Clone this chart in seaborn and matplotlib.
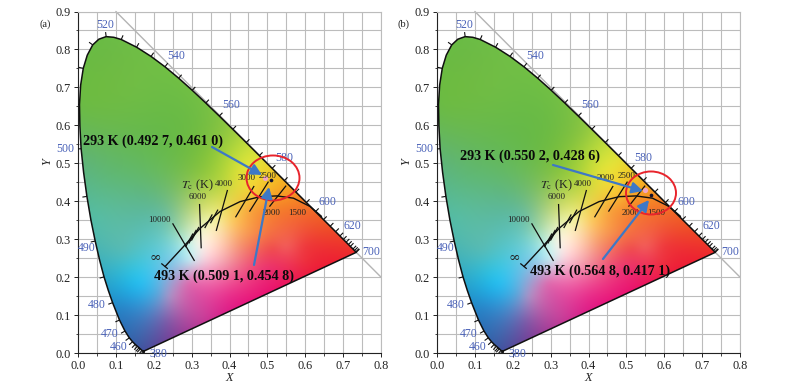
import numpy as np
import pandas as pd
import matplotlib
matplotlib.use("Agg")
import matplotlib.pyplot as plt
from matplotlib.colors import to_rgb
from matplotlib.patches import Ellipse, Polygon
from matplotlib.collections import LineCollection
import seaborn as sns

# CIE 1931 spectral locus (wavelength, chromaticity); half-steps
wavelengths = [380,400,420,430,440,445,450,455,460,465,470,475,480,482.5,485,487.5,490,492.5,495,497.5,500,502.5,505,507.5,510,512.5,515,517.5,520,522.5,525,530,535,540,545,550,555,560,565,570,575,580,585,590,595,600,605,610,615,620,625,630,635,640,650,660,680,700]
locus_x = [.1741,.1733,.1714,.1689,.1644,.1611,.1566,.1510,.1440,.1355,.1241,.1096,.0913,.0800,.0687,.0570,.0454,.0340,.0235,.0148,.0082,.0050,.0039,.0070,.0139,.0245,.0389,.0550,.0743,.0945,.1142,.1547,.1929,.2296,.2658,.3016,.3373,.3731,.4087,.4441,.4788,.5125,.5448,.5752,.6029,.6270,.6482,.6658,.6801,.6915,.7006,.7079,.7140,.7190,.7260,.7300,.7334,.7347]
locus_y = [.0050,.0048,.0051,.0069,.0109,.0138,.0177,.0227,.0297,.0399,.0578,.0868,.1327,.1650,.2007,.2450,.2950,.3510,.4127,.4760,.5384,.5985,.6548,.7060,.7502,.7850,.8120,.8270,.8338,.8320,.8262,.8059,.7816,.7543,.7243,.6923,.6589,.6245,.5896,.5547,.5202,.4866,.4544,.4242,.3965,.3725,.3514,.3340,.3197,.3083,.2993,.2920,.2859,.2809,.2740,.2700,.2666,.2653]

# Planckian locus
planck_x = [.230,.279,.323,.375,.428,.481,.525,.569,.613,.643]
planck_y = [.228,.281,.329,.373,.399,.412,.414,.408,.386,.360]
planck_tick_x = [.2936,.3024,.3094,.3446,.3596]

# isotherm segments
iso_names = ["10000","6000","4000","3000","2500","2000"]
iso_x0 = [.2497,.3209,.3947,.4650,.5029,.5495]
iso_y0 = [.3418,.3928,.4297,.4402,.4517,.4411]
iso_x1 = [.3077,.3253,.3648,.4158,.4527,.5055]
iso_y1 = [.2425,.2759,.3216,.3576,.3726,.3858]

# colour anchors of the filled diagram
anc_x = [.08,.02,.15,.30,.38,.47,.50,.55,.60,.65,.72,.02,.05,.60,.65,.55,.60,.50,
         .12,.12,.163,.12,.163,.234,.243,.208,.295,.304,.33,.40,.454,.383,.339,.295,.26,.322,.427,.47,.515,.383,.41,.357,.33,.27,.234,.383,.33,.43,.47,.463,.524,.207,.076]
anc_y = [.80,.65,.70,.60,.58,.50,.46,.42,.37,.32,.27,.50,.35,.28,.27,.28,.24,.22,
         .404,.272,.184,.114,.034,.078,.149,.157,.184,.157,.096,.149,.175,.237,.254,.245,.254,.298,.29,.316,.272,.316,.347,.35,.377,.333,.36,.448,.483,.474,.421,.377,.386,.483,.465]
anc_c = ["#6cbb45","#6cbb45","#70bd45","#6ebc44","#8cc640","#e4e138","#f2c72a","#f79a25","#f26b2b","#ef4a2b","#ee2f2c","#5fb577","#56bca5","#ef3b3e","#ee2e34","#f25a58","#ee2f3f","#ec3370",
         "#5eb98e","#55bcb8","#2abdee","#2a85c8","#4060a8","#7c5aa8","#a88fc5","#5aa8dc","#dd6fb0","#d75aa8","#c9409a","#e8308c","#ec2f7f","#f4a0b0","#f9d5dc","#c0e4ee","#8fd4e8","#f4f2e0","#f79a70","#f68a4a","#f04c50","#fbd6a0","#fbc860","#f0f0a0","#d5e07a","#a2d6a8","#72c0a0","#bcd640","#8cc63f","#e0e038","#f7c636","#f7a13a","#f6862a","#68ba5e","#5fb878"]

wave_labels = ["520","540","560","580","600","620","700","500","490","480","470","460","380"]
wave_px = [(105,25),(176,56),(231,105),(284,158),(327,202),(352,226),(371,252),(65,149),(87,248),(97,305),(110,334),(119,347),(158,354)]
iso_text = ["10000","6000","4000","3000","2500","2000","1500"]
iso_text_px = [(159,220),(198,197),(224,184),(247,178),(268,176),(272,213),(297,213)]

panels = [
    dict(off=0, tag="(a)", pts=[(.4927,.4610),(.5091,.4548)],
         t1="293 K (0.492 7, 0.461 0)", t1p=(153,141), t2="493 K (0.509 1, 0.454 8)", t2p=(224,276),
         a1=((212,147),(262,175)), a2=((254,265),(269,187)), ell=(273,178,53,45)),
    dict(off=359, tag="(b)", pts=[(.5502,.4286),(.5648,.4171)],
         t1="293 K (0.550 2, 0.428 6)", t1p=(171,156), t2="493 K (0.564 8, 0.417 1)", t2p=(241,271),
         a1=((194,165),(284,191)), a2=((244,259),(290,200)), ell=(292,193,50,43)),
]

sns.set_theme(style="white")
plt.rcParams["font.family"] = ["Liberation Serif", "DejaVu Serif"]
plt.rcParams["mathtext.fontset"] = "stix"

W, H = 795, 392
fig = plt.figure(figsize=(W/100, H/100), dpi=100)

# smooth colour surface through the anchors (thin-plate spline)
gx, gy = np.meshgrid(np.linspace(0, .8, 321), np.linspace(0, .9, 361))
A = np.c_[anc_x, anc_y]
rgb = np.array([to_rgb(c) for c in anc_c])
def tps(r2):
    return np.where(r2 > 0, .5*r2*np.log(np.maximum(r2, 1e-12)), 0.0)
K = tps(((A[:, None]-A[None])**2).sum(-1)) + 1e-4*np.eye(len(A))
P = np.c_[np.ones(len(A)), A]
M = np.block([[K, P], [P.T, np.zeros((3, 3))]])
sol = np.linalg.solve(M, np.r_[rgb, np.zeros((3, 3))])
G = np.c_[gx.ravel(), gy.ravel()]
Kg = tps(((G[:, None]-A[None])**2).sum(-1))
img = np.clip(np.c_[Kg, np.ones(len(G)), G] @ sol, 0, 1).reshape(*gx.shape, 3)

lx, ly = np.array(locus_x), np.array(locus_y)
closed = pd.DataFrame(dict(x=locus_x+locus_x[:1], y=locus_y+locus_y[:1]))
planck = pd.DataFrame(dict(x=planck_x, y=planck_y))

tx, ty = np.gradient(lx), np.gradient(ly)
nrm = np.hypot(tx, ty)
nx, ny = -ty/nrm, tx/nrm
s = np.where(nx*(lx-.33)+ny*(ly-.33) > 0, 1, -1)
nx, ny = nx*s, ny*s
is_tick = np.array([float(v) % 5 == 0 for v in wavelengths])

X = lambda px: (px-78)/378.75
Y = lambda py: (353-py)/379.4

for p in panels:
    o = p["off"]
    ax = fig.add_axes([(78+o)/W, 1-353/H, 303/W, 341.5/H])
    ax.set_xlim(0, .8); ax.set_ylim(0, .9)

    ax.set_xticks(np.arange(0, .81, .1)); ax.set_yticks(np.arange(0, .91, .1))
    ax.set_xticks(np.arange(.05, .8, .1), minor=True); ax.set_yticks(np.arange(.05, .9, .1), minor=True)
    ax.grid(True, which="both", color="#bcbcbc", lw=.8, zorder=0)
    ax.set_axisbelow(True)
    for sp in ("top", "right"):
        ax.spines[sp].set_color("#bcbcbc"); ax.spines[sp].set_linewidth(.8)
    for sp in ("left", "bottom"):
        ax.spines[sp].set_color("#222222"); ax.spines[sp].set_linewidth(.8)
    ax.tick_params(which="major", bottom=True, left=True, length=3.2, width=.7, color="#222222", labelsize=8.8, pad=2, labelcolor="#222222")
    ax.tick_params(which="minor", bottom=True, left=True, length=1.8, width=.6, color="#222222")
    ax.xaxis.set_major_formatter(lambda v, _: f"{v:.1f}")
    ax.yaxis.set_major_formatter(lambda v, _: f"{v:.1f}")

    ax.plot([.1, .8], [.9, .2], color="#b4b4b4", lw=1.0, zorder=1.5, clip_on=False)

    im = ax.imshow(img, origin="lower", extent=(0, .8, 0, .9), aspect="auto", zorder=2, interpolation="bilinear")
    im.set_clip_path(Polygon(np.c_[lx, ly], closed=True, transform=ax.transData))

    sns.lineplot(data=closed, x="x", y="y", sort=False, estimator=None, color="#101010", lw=1.1, ax=ax, zorder=4)
    sns.lineplot(data=planck, x="x", y="y", sort=False, estimator=None, color="#101010", lw=1.0, ax=ax, zorder=4)

    segs = [[(a, b), (a+.012*c, b+.012*d)] for a, b, c, d in zip(lx[is_tick], ly[is_tick], nx[is_tick], ny[is_tick])]
    ax.add_collection(LineCollection(segs, colors="#101010", lw=.8, zorder=4))

    segs = [[(a, b), (c, d)] for a, b, c, d in zip(iso_x0, iso_y0, iso_x1, iso_y1)]
    ax.add_collection(LineCollection(segs, colors="#101010", lw=.9, zorder=4))
    segs = []
    for a in planck_tick_x:
        b = np.interp(a, planck_x, planck_y)
        segs.append([(a+.010, b+.018), (a-.010, b-.018)])
    segs.append([(.220, .236), (.237, .222)])
    ax.add_collection(LineCollection(segs, colors="#101010", lw=.9, zorder=4))

    for s_, (px, py) in zip(wave_labels, wave_px):
        ax.text(X(px), Y(py), s_, color="#4a62b8", fontsize=8.5, ha="center", va="center", zorder=6, clip_on=False)
    for s_, (px, py) in zip(iso_text, iso_text_px):
        ax.text(X(px), Y(py), s_, color="#222222", fontsize=6.5, ha="center", va="center", zorder=6)
    ax.text(X(197), Y(185), r"$T_{\mathrm{c}}$ (K)", color="#222222", fontsize=8.8, ha="center", va="center", zorder=6)
    ax.text(X(155), Y(258), "\u221e", color="#222222", fontsize=10, ha="center", va="center", zorder=6, family="DejaVu Serif")

    ex, ey, ew, eh = p["ell"]
    ax.add_patch(Ellipse((X(ex), Y(ey)), ew/378.75, eh/379.4, fill=False, ec="#e8242c", lw=1.4, zorder=6))

    pts = pd.DataFrame(p["pts"], columns=["x", "y"])
    sns.scatterplot(data=pts.iloc[[0]], x="x", y="y", color="#f2a6c4", s=14, linewidth=0, ax=ax, zorder=5)
    sns.scatterplot(data=pts.iloc[[1]], x="x", y="y", color="#101030", s=7, linewidth=0, ax=ax, zorder=5)
    ax.set_xlabel(""); ax.set_ylabel("")

    for (a, b) in (p["a1"], p["a2"]):
        ax.annotate("", xy=(X(b[0]), Y(b[1])), xytext=(X(a[0]), Y(a[1])), zorder=7,
                    arrowprops=dict(arrowstyle="-|>,head_length=.55,head_width=.28", color="#3d78c6", lw=1.6, shrinkA=0, shrinkB=0))
    ax.text(X(p["t1p"][0]), Y(p["t1p"][1]), p["t1"], fontsize=10.2, fontweight="bold", color="#0a0a0a", ha="center", va="center", zorder=8, clip_on=False)
    ax.text(X(p["t2p"][0]), Y(p["t2p"][1]), p["t2"], fontsize=10.2, fontweight="bold", color="#0a0a0a", ha="center", va="center", zorder=8, clip_on=False)

    fig.text((45+o)/W, 1-24/H, p["tag"], fontsize=7.5, color="#222222", ha="center", va="center")
    fig.text((229+o)/W, 1-378/H, "X", fontsize=8.8, style="italic", color="#222222", ha="center", va="center")
    fig.text((47+o)/W, 1-162/H, "Y", fontsize=8.8, style="italic", color="#222222", ha="center", va="center", rotation=90)

fig.savefig("out.png", dpi=100, facecolor="white")
